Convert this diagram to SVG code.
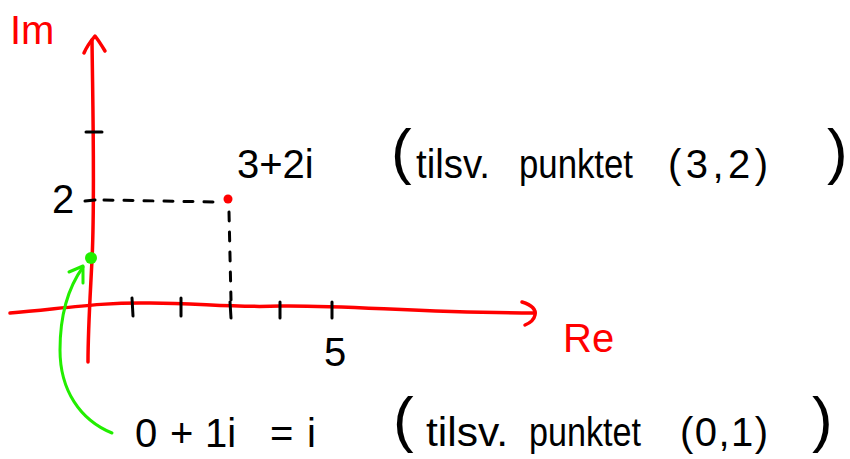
<svg xmlns="http://www.w3.org/2000/svg" width="850" height="459" viewBox="0 0 850 459">
<style>
.red{stroke:#ff0000;stroke-width:3.5;fill:none;stroke-linecap:round;stroke-linejoin:round}
.tick{stroke:#000;stroke-width:3;fill:none;stroke-linecap:round}
.dash{stroke:#000;stroke-width:3;fill:none;stroke-dasharray:9 11;stroke-linecap:round}
.green{stroke:#22ee00;stroke-width:3;fill:none;stroke-linecap:round;stroke-linejoin:round}
.t{font-family:"Liberation Sans",sans-serif;font-size:40px;fill:#000}
.tr{font-family:"Liberation Sans",sans-serif;font-size:40px;fill:#ff0000}
.p{font-family:"Liberation Sans",sans-serif;font-size:62px;fill:#000}
</style>
<rect width="850" height="459" fill="#fff"/>
<g id="connectors">
<path id="im-axis" class="red" d="M92,40 C93,120 95,200 92,260 C90,300 88,330 88,362"/>
<path class="red" d="M84,53 C87,46 90,42 95,36 C99,41 102,46 105,51"/>
<path id="re-axis" class="red" d="M10,313 C60,309 100,302 150,303 C200,303 230,308 280,306 C350,305 420,313 535,313"/>
<path class="red" d="M522,302 C532,305 536,310 535,315 C534,320 530,323 525,325"/>
<path class="tick" d="M86,132 L102,132"/>
<path class="tick" d="M85,201 L95,200"/>
<path class="tick" d="M132,298 L133,316"/>
<path class="tick" d="M181,298 L181,316"/>
<path class="tick" d="M230,302 L231,318"/>
<path class="tick" d="M280,302 L280,318"/>
<path class="tick" d="M332,302 L332,318"/>
<path class="dash" d="M104,200 L216,202"/>
<path class="dash" d="M229,212 L231,300"/>
<path id="green-arrow" class="green" d="M112,433 C80,420 60,390 60,350 C60,310 70,285 83,267"/>
<path class="green" d="M69,272 L83,266 L83,283"/>
</g>
<g id="point-i"><circle cx="91" cy="258" r="6" fill="#22ee00"/></g>
<g id="point-3-2"><circle cx="228" cy="199" r="4.5" fill="#ff0000"/></g>
<g id="labels">
<text class="tr" x="10" y="44">Im</text>
<text class="tr" x="563" y="352">Re</text>
<text class="t" x="52" y="213">2</text>
<text class="t" x="324" y="366">5</text>
<text class="t" x="237" y="178">3+2i</text>
<text class="p" x="391" y="172">(</text>
<text class="t" x="416" y="178" textLength="74" lengthAdjust="spacingAndGlyphs">tilsv.</text>
<text class="t" x="519" y="178" textLength="114" lengthAdjust="spacingAndGlyphs">punktet</text>
<text class="t" x="668" y="178" textLength="100" lengthAdjust="spacing">(3,2)</text>
<text class="p" x="827" y="172">)</text>
<text class="t" x="135" y="447">0</text>
<text class="t" x="170" y="447">+</text>
<text class="t" x="205" y="447">1i</text>
<text class="t" x="270" y="447">=</text>
<text class="t" x="307" y="447">i</text>
<text class="p" x="393" y="440">(</text>
<text class="t" x="426" y="446" textLength="82" lengthAdjust="spacingAndGlyphs">tilsv.</text>
<text class="t" x="529" y="446" textLength="112" lengthAdjust="spacingAndGlyphs">punktet</text>
<text class="t" x="680" y="446" textLength="88" lengthAdjust="spacing">(0,1)</text>
<text class="p" x="812" y="440">)</text>
</g>
</svg>
